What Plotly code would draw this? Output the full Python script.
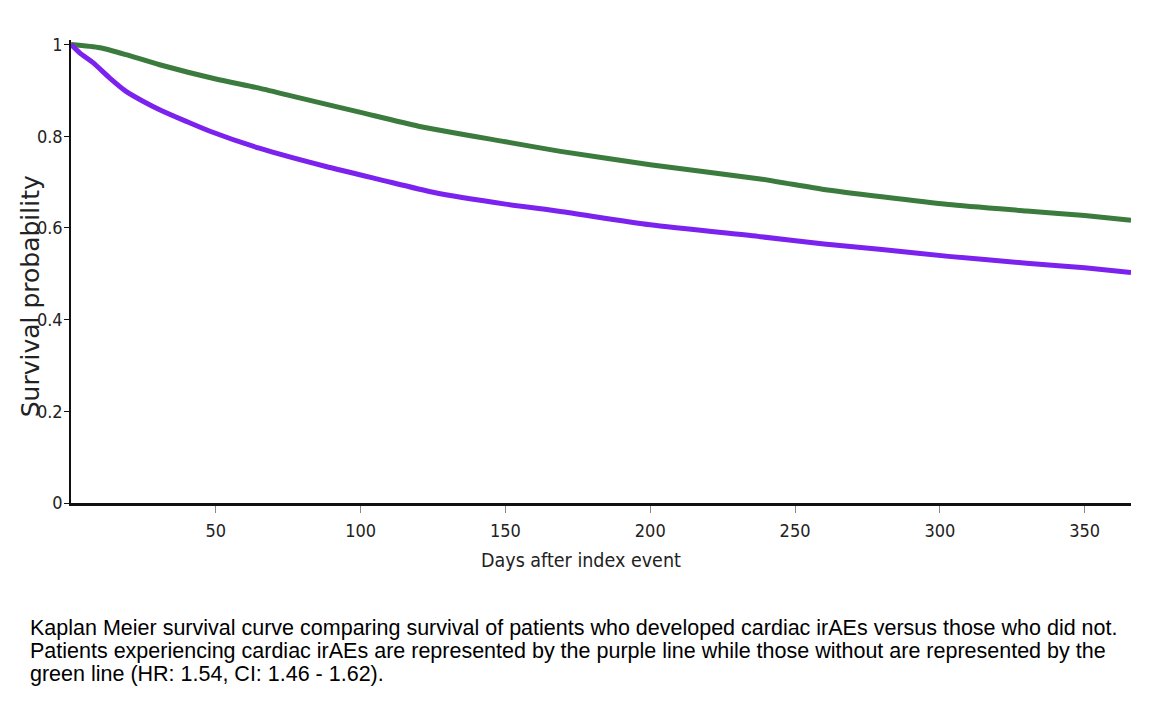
import plotly.graph_objects as go

# Data
green_days = [0, 10, 19, 30.6, 50, 65, 80, 100, 120, 150, 169, 200, 238, 260, 280, 303, 330, 350, 366]
green_surv = [1.0, 0.993, 0.978, 0.956, 0.925, 0.905, 0.882, 0.852, 0.822, 0.788, 0.767, 0.738, 0.707, 0.684, 0.668, 0.651, 0.637, 0.627, 0.617]

purple_days = [0, 3, 7.7, 13.4, 19, 25, 30.6, 40, 48, 65, 88, 107, 125, 150, 169, 200, 238, 260, 280, 303, 330, 350, 366]
purple_surv = [1.0, 0.982, 0.96, 0.927, 0.898, 0.876, 0.858, 0.832, 0.811, 0.774, 0.734, 0.705, 0.678, 0.652, 0.636, 0.607, 0.581, 0.565, 0.553, 0.538, 0.523, 0.513, 0.503]

x_ticks = [50, 100, 150, 200, 250, 300, 350]
y_ticks = [0, 0.2, 0.4, 0.6, 0.8, 1]
y_tick_text = ["0", "0.2", "0.4", "0.6", "0.8", "1"]

caption_lines = [
    "Kaplan Meier survival curve comparing survival of patients who developed cardiac irAEs versus those who did not.",
    "Patients experiencing cardiac irAEs are represented by the purple line while those without are represented by the",
    "green line (HR: 1.54, CI: 1.46 - 1.62).",
]

W, H = 1164, 710
L, R, T, B = 63, 41, 32.4, 215
PW, PH = W - L - R, H - T - B


def px(x):
    return (x - L) / PW


def py(y):
    return (H - B - y) / PH


fig = go.Figure()
fig.add_trace(go.Scatter(x=green_days, y=green_surv, mode="lines",
                         line=dict(color="#3b7b3e", width=5, shape="spline", smoothing=0.6),
                         showlegend=False))
fig.add_trace(go.Scatter(x=purple_days, y=purple_surv, mode="lines",
                         line=dict(color="#7b22ee", width=5, shape="spline", smoothing=0.6),
                         showlegend=False))

narrow = "DejaVu Sans Condensed, DejaVu Sans, sans-serif"
fig.update_layout(
    width=W, height=H,
    margin=dict(l=L, r=R, t=T, b=B),
    paper_bgcolor="white", plot_bgcolor="white",
    xaxis=dict(range=[0, 366], tickvals=x_ticks, ticks="outside", ticklen=7, tickcolor="#888",
               tickwidth=1, showline=True, linecolor="#111", linewidth=2.5, showgrid=False,
               zeroline=False, ticklabelstandoff=3,
               tickfont=dict(family=narrow, size=18, color="#222")),
    yaxis=dict(range=[0, 1.01], tickvals=y_ticks, ticktext=y_tick_text, ticks="outside", ticklen=5,
               tickcolor="#111", showline=True, linecolor="#111", linewidth=1.5, showgrid=False,
               zeroline=False, ticklabelstandoff=-2,
               tickfont=dict(family=narrow, size=18, color="#222")),
)

fig.add_annotation(text="Survival probability", xref="paper", yref="paper", x=px(22), y=py(288.5),
                   xanchor="center", yanchor="middle", textangle=-90, showarrow=False,
                   font=dict(family="DejaVu Sans", size=25, color="#222"))
fig.add_annotation(text="Days after index event", xref="paper", yref="paper", x=px(573), y=py(552),
                   xanchor="center", yanchor="middle", showarrow=False,
                   font=dict(family=narrow, size=19.5, color="#222"))
for line, cy in zip(caption_lines, [620, 643, 666]):
    fig.add_annotation(text=line, xref="paper", yref="paper", x=px(20), y=py(cy),
                       xanchor="left", yanchor="middle", align="left", showarrow=False,
                       font=dict(family="Liberation Sans, Arial", size=21.5, color="black"))

fig.write_html("out.html")
